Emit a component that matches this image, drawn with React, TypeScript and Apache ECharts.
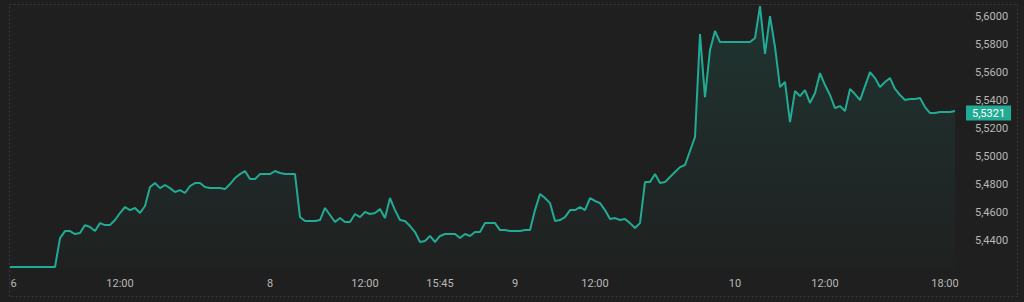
import React, { useEffect, useRef } from "react";
import * as echarts from "echarts";

// Price samples (one per bar, left to right)
const PRICES: number[] = [
  5.4207, 5.4207, 5.4207, 5.4207, 5.4207, 5.4207, 5.4207, 5.4207, 5.4207, 5.4207,
  5.4414, 5.4464, 5.4464, 5.4443, 5.4450, 5.4507, 5.4493, 5.4464, 5.4521, 5.4507,
  5.4507, 5.4543, 5.4593, 5.4636, 5.4614, 5.4629, 5.4593, 5.4643, 5.4779, 5.4807,
  5.4771, 5.4793, 5.4771, 5.4743, 5.4757, 5.4736, 5.4786, 5.4807, 5.4807, 5.4779,
  5.4771, 5.4771, 5.4771, 5.4764, 5.4800, 5.4843, 5.4871, 5.4893, 5.4836, 5.4836,
  5.4871, 5.4871, 5.4871, 5.4893, 5.4879, 5.4871, 5.4871, 5.4871, 5.4564, 5.4536,
  5.4536, 5.4536, 5.4543, 5.4629, 5.4579, 5.4529, 5.4557, 5.4529, 5.4529, 5.4586,
  5.4564, 5.4600, 5.4586, 5.4593, 5.4621, 5.4557, 5.4700, 5.4614, 5.4543, 5.4536,
  5.4500, 5.4457, 5.4386, 5.4393, 5.4429, 5.4386, 5.4429, 5.4443, 5.4443, 5.4443,
  5.4414, 5.4443, 5.4429, 5.4457, 5.4457, 5.4521, 5.4521, 5.4521, 5.4471, 5.4471,
  5.4464, 5.4464, 5.4464, 5.4471, 5.4471, 5.4614, 5.4729, 5.4700, 5.4664, 5.4536,
  5.4543, 5.4564, 5.4614, 5.4614, 5.4636, 5.4614, 5.4700, 5.4679, 5.4664, 5.4614,
  5.4550, 5.4557, 5.4543, 5.4550, 5.4521, 5.4486, 5.4521, 5.4814, 5.4814, 5.4871,
  5.4807, 5.4814, 5.4850, 5.4886, 5.4921, 5.4936, 5.5036, 5.5136, 5.5871, 5.5421,
  5.5757, 5.5893, 5.5814, 5.5814, 5.5814, 5.5814, 5.5814, 5.5814, 5.5814, 5.5843,
  5.6071, 5.5729, 5.6000, 5.5779, 5.5493, 5.5529, 5.5243, 5.5464, 5.5429, 5.5471,
  5.5379, 5.5450, 5.5593, 5.5507, 5.5436, 5.5343, 5.5357, 5.5321, 5.5479, 5.5443,
  5.5400, 5.5500, 5.5600, 5.5557, 5.5493, 5.5529, 5.5557, 5.5479, 5.5436, 5.5400,
  5.5407, 5.5407, 5.5414, 5.5350, 5.5307, 5.5307, 5.5314, 5.5314, 5.5314, 5.5321,
];

// Time-axis labels and the bar index where each one sits
const TICK_INDEX: number[] = [0, 22, 52, 71, 86, 101, 117, 145, 163, 187];
const TICK_LABEL: string[] = ["6", "12:00", "8", "12:00", "15:45", "9", "12:00", "10", "12:00", "18:00"];

// Price scale
const Y_MIN = 5.4186;
const Y_MAX = 5.6086;
const Y_STEP = 0.02;
const Y_LABEL_LOW = 5.43;
const Y_LABEL_HIGH = 5.605;

const BG = "#1f1f1f";
const LINE = "#22ab94";
const TEXT = "#b8b8b8";
const FONT = "Roboto, 'Noto Sans', sans-serif";

const fmt = (v: number) => v.toFixed(4).replace(".", ",");

export default function App() {
  const ref = useRef<HTMLDivElement>(null);

  useEffect(() => {
    document.body.style.margin = "0";
    document.body.style.background = BG;
    if (!ref.current) return;
    const chart = echarts.init(ref.current, null, { renderer: "svg" });
    const labelMap: Record<number, string> = {};
    TICK_INDEX.forEach((idx, k) => (labelMap[idx] = TICK_LABEL[k]));

    chart.setOption({
      animation: false,
      backgroundColor: BG,
      grid: { left: 10, top: 4, width: 945, height: 266, containLabel: false },
      xAxis: {
        type: "category",
        boundaryGap: false,
        data: PRICES.map((_, i) => String(i)),
        axisLine: { show: false },
        axisTick: { show: false },
        splitLine: { show: false },
        axisLabel: {
          interval: 0,
          margin: 8,
          color: TEXT,
          fontSize: 11,
          fontFamily: FONT,
          formatter: (_v: string, i: number) => {
            const t = labelMap[i];
            if (t == null) return "";
            return i === 0 ? `{first|${t}}` : t;
          },
          rich: {
            first: { color: TEXT, fontSize: 11, fontFamily: FONT, padding: [0, 0, 0, 7] },
          },
        },
      },
      yAxis: {
        type: "value",
        position: "right",
        min: Y_MIN,
        max: Y_MAX,
        minInterval: Y_STEP,
        maxInterval: Y_STEP,
        splitNumber: 10,
        axisLine: { show: false },
        axisTick: { show: false },
        splitLine: { show: false },
        axisLabel: {
          margin: 20,
          color: TEXT,
          fontSize: 11,
          fontFamily: FONT,
          showMinLabel: false,
          showMaxLabel: false,
          formatter: (v: number) => (v < Y_LABEL_LOW || v > Y_LABEL_HIGH ? "" : fmt(v)),
        },
      },
      series: [
        {
          type: "line",
          data: PRICES,
          symbol: "none",
          lineStyle: { color: LINE, width: 2 },
          itemStyle: { color: LINE },
          areaStyle: {
            origin: "start",
            color: new echarts.graphic.LinearGradient(0, 0, 0, 1, [
              { offset: 0, color: "rgba(34,171,148,0.22)" },
              { offset: 1, color: "rgba(34,171,148,0.02)" },
            ]),
          },
          endLabel: {
            show: true,
            distance: 11,
            offset: [0, 2],
            formatter: (p: any) => fmt(p.value as number),
            color: "#ffffff",
            backgroundColor: LINE,
            padding: [2, 6, 1, 6],
            fontSize: 11,
            lineHeight: 12,
            fontFamily: FONT,
          },
        },
      ],
      graphic: [
        {
          type: "rect",
          silent: true,
          shape: { x: 9.5, y: 4.5, width: 1008, height: 292 },
          style: { fill: "none", stroke: "#3a3a3a", lineWidth: 1, lineDash: [2, 2] },
        },
      ],
    });
    return () => chart.dispose();
  }, []);

  return (
    <div
      ref={ref}
      style={{ position: "fixed", left: 0, top: 0, width: 1024, height: 302, background: BG }}
    />
  );
}
